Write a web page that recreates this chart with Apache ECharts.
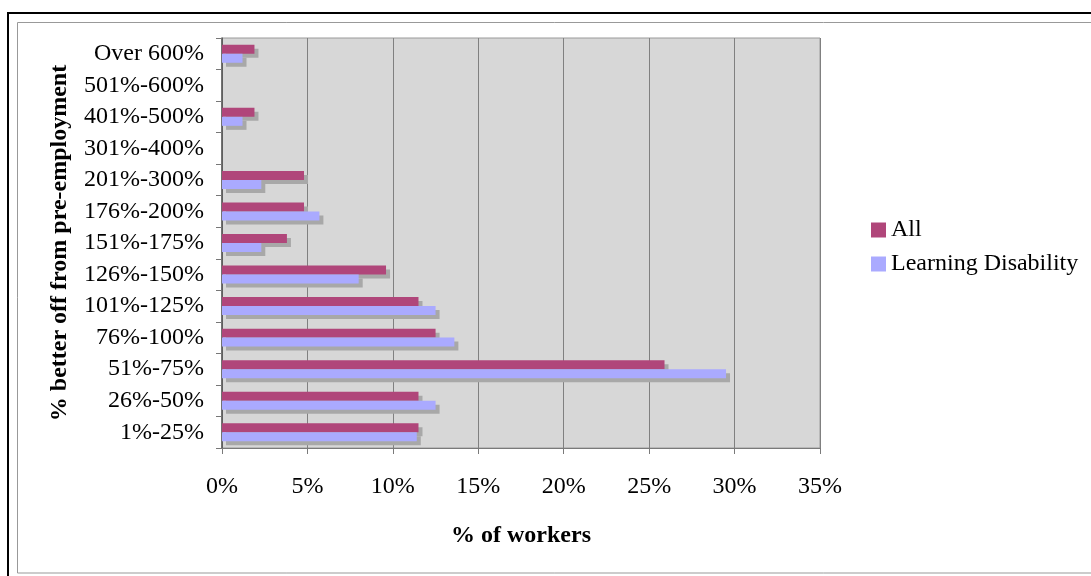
<!DOCTYPE html>
<html>
<head>
<meta charset="utf-8">
<script src="https://cdn.jsdelivr.net/npm/echarts@6/dist/echarts.min.js"></script>
<style>
html,body{margin:0;padding:0;background:#fff;}
#chart{width:1091px;height:576px;}
</style>
</head>
<body>
<div id="chart"></div>
<script>
const categories = ['Over 600%','501%-600%','401%-500%','301%-400%','201%-300%','176%-200%','151%-175%','126%-150%','101%-125%','76%-100%','51%-75%','26%-50%','1%-25%'];
const allValues = [1.9, 0, 1.9, 0, 4.8, 4.8, 3.8, 9.6, 11.5, 12.5, 25.9, 11.5, 11.5];
const ldValues = [1.2, 0, 1.2, 0, 2.3, 5.7, 2.3, 8.0, 12.5, 13.6, 29.5, 12.5, 11.4];
const xTicks = [0, 5, 10, 15, 20, 25, 30, 35];
const seriesNames = ['All', 'Learning Disability'];

const font = 'Liberation Serif';
const chart = echarts.init(document.getElementById('chart'));
chart.setOption({
  animation: false,
  textStyle: { fontFamily: font },
  graphic: [
    { type: 'rect', shape: { x: 8, y: 13, width: 1100, height: 600 }, style: { fill: 'none', stroke: '#000', lineWidth: 2 }, z: 0 },
    { type: 'rect', shape: { x: 17.5, y: 22.5, width: 1100, height: 550.5 }, style: { fill: 'none', stroke: '#999', lineWidth: 1 }, z: 0 }
  ],
  grid: {
    left: 222, right: 271, top: 38, bottom: 128,
    show: true, backgroundColor: '#d7d7d7', borderColor: '#9a9a9a', borderWidth: 1
  },
  legend: {
    orient: 'vertical', left: 866, top: 213,
    icon: 'rect',
    itemWidth: 15, itemHeight: 15, itemGap: 10,
    data: seriesNames,
    textStyle: { fontFamily: font, fontSize: 24, color: '#000' }
  },
  xAxis: {
    type: 'value', min: xTicks[0], max: xTicks[xTicks.length - 1], interval: 5,
    name: '% of workers', nameLocation: 'middle', nameGap: 76,
    nameTextStyle: { fontFamily: font, fontSize: 24, fontWeight: 'bold', color: '#000' },
    axisLine: { show: true, lineStyle: { color: '#7a7a7a', width: 1 } },
    axisTick: { show: true, length: 6, lineStyle: { color: '#7a7a7a' } },
    axisLabel: { formatter: '{value}%', fontFamily: font, fontSize: 24, color: '#000', margin: 27 },
    splitLine: { show: true, lineStyle: { color: '#808080', width: 1 } }
  },
  yAxis: {
    type: 'category', data: categories, inverse: true,
    name: '% better off from pre-employment', nameLocation: 'middle', nameGap: 150, nameRotate: 90,
    nameTextStyle: { fontFamily: font, fontSize: 24, fontWeight: 'bold', color: '#000' },
    axisLine: { show: true, lineStyle: { color: '#555', width: 1.5 } },
    axisTick: { show: true, length: 6, lineStyle: { color: '#777' } },
    axisLabel: { fontFamily: font, fontSize: 24, color: '#000', margin: 18 }
  },
  series: [
    {
      name: seriesNames[0], type: 'bar', data: allValues,
      barGap: '0%', barCategoryGap: '43%',
      itemStyle: { color: '#b0467a', shadowColor: '#a8a8a8', shadowBlur: 0, shadowOffsetX: 4, shadowOffsetY: 4 },
      z: 2
    },
    {
      name: seriesNames[1], type: 'bar', data: ldValues,
      barGap: '0%', barCategoryGap: '43%',
      itemStyle: { color: '#aaaaff', shadowColor: '#a8a8a8', shadowBlur: 0, shadowOffsetX: 4, shadowOffsetY: 4 },
      z: 3
    }
  ]
});
</script>
</body>
</html>
